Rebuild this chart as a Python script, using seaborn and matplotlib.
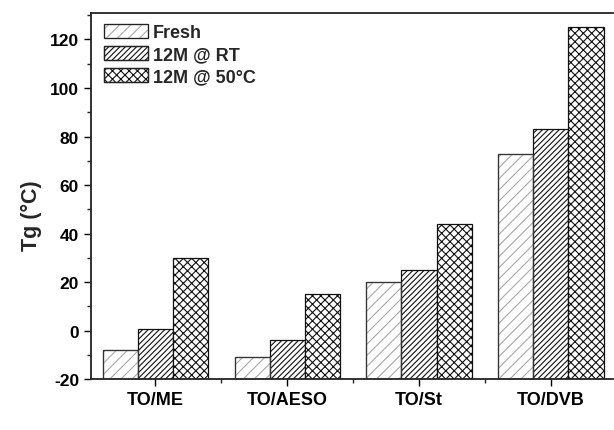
import numpy as np
import pandas as pd
import matplotlib
matplotlib.use('Agg')
import matplotlib.pyplot as plt
import seaborn as sns
from matplotlib.patches import Patch, Rectangle
from matplotlib.legend_handler import HandlerTuple
from matplotlib.ticker import MultipleLocator

systems = ['TO/ME', 'TO/AESO', 'TO/St', 'TO/DVB']
conditions = ['Fresh', '12M @ RT', '12M @ 50°C']
tg_fresh = [-8, -11, 20, 73]
tg_rt = [0.5, -4, 25, 83]
tg_50 = [30, 15, 44, 125]

BASE = -20
hatches = ['///', '//////', 'xxxx']
hatch_colors = ['#a8a8a8', '#111111', '#111111']

df = pd.DataFrame({
    'system': systems * 3,
    'condition': np.repeat(conditions, len(systems)),
    'Tg': tg_fresh + tg_rt + tg_50,
})

sns.set_style('ticks')
plt.rcParams['font.family'] = ['Liberation Sans', 'DejaVu Sans']
plt.rcParams['font.weight'] = 'bold'
plt.rcParams['axes.unicode_minus'] = False
plt.rcParams['hatch.linewidth'] = 0.8

fig = plt.figure(figsize=(6.14, 4.31), dpi=100)
ax = fig.add_axes([0.148, 0.118, 0.85, 0.85])

sns.barplot(data=df, x='system', y='Tg', hue='condition', order=systems,
            hue_order=conditions, palette=['white'] * 3, width=0.8,
            edgecolor='black', linewidth=0.9, legend=False, ax=ax)

for i, cont in enumerate(ax.containers):
    for p in cont.patches:
        top = p.get_y() + p.get_height()
        p.set_y(BASE)
        p.set_height(top - BASE)
        p.set_hatch(hatches[i])
        p.set_edgecolor(hatch_colors[i])
        if i == 0:
            # hatch drawn in light grey, outline redrawn dark on top
            ax.add_patch(Rectangle((p.get_x(), p.get_y()), p.get_width(), p.get_height(),
                                   fill=False, edgecolor='#333333', linewidth=0.9, zorder=p.get_zorder() + 0.1))

ax.set_ylim(BASE, 131)
ax.set_xlim(-0.49, 3.47)
ax.yaxis.set_major_locator(MultipleLocator(20))
ax.yaxis.set_minor_locator(MultipleLocator(10))
ax.set_xticks([0, 1, 2, 3], minor=False)
ax.set_xticks([0.5, 1.5, 2.5], minor=True)
ax.tick_params(axis='both', which='major', direction='out', length=5, width=1,
               colors='black')
ax.tick_params(axis='y', which='major', labelsize=12.5)
ax.tick_params(axis='x', which='major', labelsize=13)
ax.tick_params(axis='both', which='minor', direction='out', length=3, width=1)
for lab in ax.get_xticklabels() + ax.get_yticklabels():
    lab.set_fontweight('bold')

ax.set_xlabel('')
ax.set_ylabel('Tg (°C)', fontsize=15.5, fontweight='bold')
ax.yaxis.set_label_coords(-0.094, 0.45)
for side in ['left', 'bottom', 'top']:
    ax.spines[side].set_linewidth(1.3)
    ax.spines[side].set_color('#222222')
ax.spines['right'].set_visible(False)

handles = []
for i, c in enumerate(conditions):
    h = Patch(facecolor='white', edgecolor=hatch_colors[i], hatch=hatches[i], linewidth=0.9)
    o = Patch(fill=False, edgecolor='#222222', linewidth=0.9)
    handles.append((h, o))
ax.legend(handles=handles, labels=conditions, loc='upper left', frameon=False,
          handler_map={tuple: HandlerTuple(ndivide=1)},
          prop={'weight': 'bold', 'size': 13}, handlelength=2.4, handleheight=0.85,
          handletextpad=0.3, labelspacing=0.25, borderaxespad=0.2,
          bbox_to_anchor=(0.005, 1.0))

plt.savefig('out.png', dpi=100)
